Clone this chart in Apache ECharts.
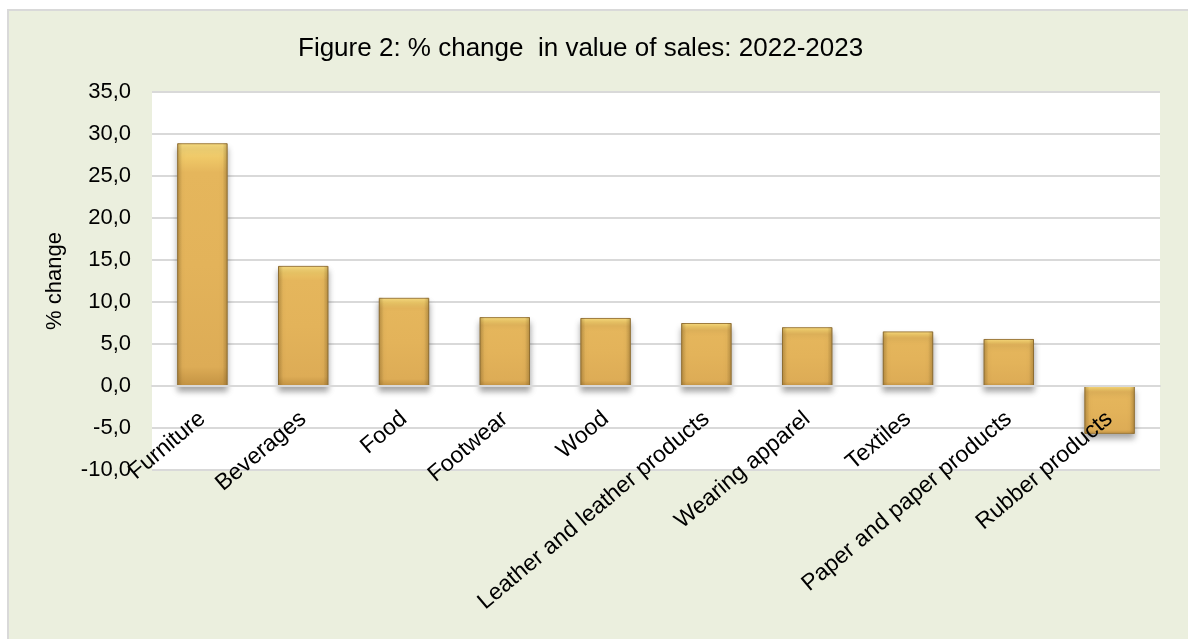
<!DOCTYPE html>
<html>
<head>
<meta charset="utf-8">
<script src="https://cdn.jsdelivr.net/npm/echarts@6/dist/echarts.min.js"></script>
<style>
  html, body { margin: 0; padding: 0; background: #ffffff; width: 1188px; height: 639px; overflow: hidden; }
  #frame { position: absolute; left: 7px; top: 9px; width: 1200px; height: 650px; background: #EBEFDE; border-left: 2px solid #D9D9D9; border-top: 2px solid #D9D9D9; }
  #chart { position: absolute; left: 0; top: 0; width: 1188px; height: 639px; }
</style>
</head>
<body>
<div id="frame"></div>
<div id="chart"></div>
<script>
const titleText = 'Figure 2: % change  in value of sales: 2022-2023';
const yAxisName = '% change';
const categories = ['Furniture', 'Beverages', 'Food', 'Footwear', 'Wood', 'Leather and leather products', 'Wearing apparel', 'Textiles', 'Paper and paper products', 'Rubber products'];
const pctChange = [28.9, 14.3, 10.5, 8.2, 8.1, 7.5, 7.0, 6.5, 5.6, -5.7];
const yMin = -10, yMax = 35, yStep = 5;

const FONT = 'Liberation Sans, Arial, sans-serif';
const chart = echarts.init(document.getElementById('chart'), null, { renderer: 'canvas' });

const barColor = new echarts.graphic.LinearGradient(0, 0, 0, 1, [
  { offset: 0, color: '#F7DC80' },
  { offset: 0.06, color: '#EFC867' },
  { offset: 0.12, color: '#E5B65C' },
  { offset: 0.5, color: '#E3B35A' },
  { offset: 0.92, color: '#DDAC56' },
  { offset: 1, color: '#C39343' }
]);
const edgeShade = new echarts.graphic.LinearGradient(0, 0, 1, 0, [
  { offset: 0, color: 'rgba(110,80,25,0.35)' },
  { offset: 0.1, color: 'rgba(110,80,25,0.0)' },
  { offset: 0.9, color: 'rgba(110,80,25,0.0)' },
  { offset: 1, color: 'rgba(110,80,25,0.35)' }
]);

const gridTop = 92, gridBottom = 169, chartH = 639;
// shift the category axis (line + labels) up to the zero line, as in the original
const plotH = chartH - gridTop - gridBottom;
const zeroShift = -plotH * (0 - yMin) / (yMax - yMin);

chart.setOption({
  backgroundColor: 'transparent',
  animation: false,
  title: {
    text: titleText,
    left: 293,
    top: 31,
    textStyle: { fontFamily: FONT, fontSize: 26, fontWeight: 'normal', color: '#000' }
  },
  grid: {
    left: 152, right: 28, top: gridTop, bottom: gridBottom,
    outerBoundsMode: 'none',
    containLabel: false,
    show: true, backgroundColor: '#ffffff', borderWidth: 0
  },
  xAxis: {
    type: 'category',
    data: categories,
    offset: zeroShift,
    z: 10,
    axisLine: { show: true, onZero: false, lineStyle: { color: '#D9D9D9', width: 2 } },
    axisTick: { show: false },
    axisLabel: {
      rotate: 40,
      interval: 0,
      margin: 30,
      fontFamily: FONT,
      fontSize: 23,
      color: '#000'
    }
  },
  yAxis: {
    type: 'value',
    min: yMin, max: yMax, interval: yStep,
    name: yAxisName,
    nameLocation: 'middle',
    nameGap: 86,
    nameRotate: 90,
    nameTextStyle: { fontFamily: FONT, fontSize: 22, color: '#000' },
    axisLine: { show: false },
    axisTick: { show: false },
    splitLine: { lineStyle: { color: '#D9D9D9', width: 2 } },
    axisLabel: {
      margin: 21,
      fontFamily: FONT,
      fontSize: 22,
      color: '#000',
      formatter: v => v.toFixed(1).replace('.', ',')
    }
  },
  series: [{
    type: 'bar',
    data: pctChange,
    barWidth: '50%',
    z: 1,
    itemStyle: {
      color: barColor,
      borderColor: '#9E7C3E',
      borderWidth: 1,
      shadowColor: 'rgba(0,0,0,0.35)',
      shadowBlur: 6,
      shadowOffsetY: 5
    }
  }, {
    type: 'bar',
    data: pctChange,
    barWidth: '50%',
    barGap: '-100%',
    z: 2,
    silent: true,
    itemStyle: { color: edgeShade, borderWidth: 0 }
  }]
});
</script>
</body>
</html>
